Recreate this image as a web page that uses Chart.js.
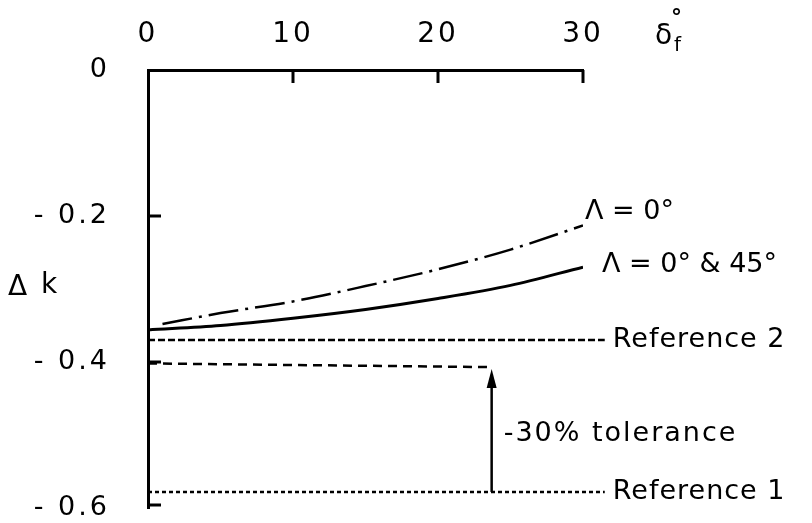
<!DOCTYPE html>
<html>
<head>
<meta charset="utf-8">
<script src="https://cdn.jsdelivr.net/npm/chart.js@4/dist/chart.umd.min.js"></script>
<style>
  html, body { margin: 0; padding: 0; background: #fff; }
  #wrap { width: 812px; height: 523px; }
</style>
</head>
<body>
<div id="wrap"><canvas id="c" width="812" height="523"></canvas></div>
<script>
// Flap deflection δf (degrees) and the change in k
const deflectionSolid = [0, 5, 10, 15, 20, 25, 30];
const dkSweepBoth     = [-0.356, -0.350, -0.340, -0.328, -0.313, -0.295, -0.270]; // Λ = 0° & 45°
const deflectionChain = [1, 5, 10, 15, 20, 25, 30];
const dkSweepZero     = [-0.348, -0.333, -0.317, -0.296, -0.273, -0.246, -0.213]; // Λ = 0°

// Reference levels
const refSpan      = [0, 31.5];
const reference2   = [-0.370, -0.370];
const reference1   = [-0.578, -0.578];
const toleranceX   = [0, 23.7];
const toleranceY   = [-0.402, -0.407];
const arrowX       = [23.7, 23.7];
const arrowY       = [-0.578, -0.425];

// Axis ticks
const xTicks = [0, 10, 20, 30];
const yTicks = [0, -0.2, -0.4, -0.6];

const FONT = '"DejaVu Sans", sans-serif';

const pts = (xs, ys) => xs.map((x, i) => ({ x: x, y: ys[i] }));

function fmtY(v) {
  if (Math.abs(v) < 1e-9) return '0';
  return '- ' + Math.abs(v).toFixed(1);
}

// wider lettering for the tick labels
const spacing = {
  id: 'spacing',
  beforeDraw(chart) { chart.ctx.letterSpacing = '3px'; },
  afterDraw(chart) { chart.ctx.letterSpacing = '0px'; }
};

const drawings = {
  id: 'drawings',
  afterDraw(chart) {
    const { ctx, scales: { x, y } } = chart;
    ctx.save();
    ctx.letterSpacing = '0px';
    ctx.strokeStyle = '#000';
    ctx.fillStyle = '#000';
    ctx.lineWidth = 3;
    ctx.lineCap = 'butt';

    // inward tick marks on the top axis
    const top = y.getPixelForValue(0);
    xTicks.slice(1).forEach(v => {
      const px = x.getPixelForValue(v);
      ctx.beginPath();
      ctx.moveTo(px, top);
      ctx.lineTo(px, top + 13);
      ctx.stroke();
    });
    // inward tick marks on the left axis
    const left = x.getPixelForValue(0);
    yTicks.slice(1).forEach(v => {
      const py = Math.min(y.getPixelForValue(v), chart.chartArea.bottom - 3);
      ctx.beginPath();
      ctx.moveTo(left, py);
      ctx.lineTo(left + 13, py);
      ctx.stroke();
    });

    // arrow head on the tolerance bar
    const ax = x.getPixelForValue(arrowX[0]);
    const ay = y.getPixelForValue(toleranceY[1]) + 2;
    ctx.beginPath();
    ctx.moveTo(ax, ay);
    ctx.lineTo(ax - 5, ay + 19);
    ctx.lineTo(ax + 5, ay + 19);
    ctx.closePath();
    ctx.fill();

    // text annotations
    ctx.textBaseline = 'middle';
    ctx.textAlign = 'left';
    ctx.font = '27px ' + FONT;
    ctx.letterSpacing = '1px';
    const endX = x.getPixelForValue(refSpan[1]);
    ctx.fillText('Reference 2', endX + 8, y.getPixelForValue(reference2[1]));
    ctx.fillText('Reference 1', endX + 8, y.getPixelForValue(reference1[1]));

    ctx.letterSpacing = '0px';
    const zx = x.getPixelForValue(30);
    ctx.fillText('Λ = 0°', zx + 2, y.getPixelForValue(dkSweepZero[6]) - 14);
    ctx.fillText('Λ = 0° & 45°', zx + 19, y.getPixelForValue(dkSweepBoth[6]) - 2);

    ctx.letterSpacing = '2px';
    ctx.fillText('-30% tolerance', ax + 12, (y.getPixelForValue(arrowY[0]) + y.getPixelForValue(arrowY[1])) / 2 - 2);

    // axis titles
    ctx.letterSpacing = '0px';
    ctx.font = '28px ' + FONT;
    ctx.fillText('δ', 655, 37);
    ctx.font = '20px ' + FONT;
    ctx.fillText('f', 674, 46);
    ctx.font = 'bold 22px ' + FONT;
    ctx.fillText('°', 671, 18);
    ctx.font = '28px ' + FONT;
    ctx.fillText('Δ', 8, 288);
    ctx.fillText('k', 41, 286);
    ctx.restore();
  }
};

const line = (data, extra) => Object.assign({
  data: data,
  borderColor: '#000',
  borderWidth: 2.5,
  pointRadius: 0,
  fill: false,
  tension: 0
}, extra);

new Chart(document.getElementById('c'), {
  type: 'line',
  data: {
    datasets: [
      line(pts(deflectionChain, dkSweepZero), { borderDash: [30, 7, 3, 7], cubicInterpolationMode: 'monotone' }),
      line(pts(deflectionSolid, dkSweepBoth), { borderWidth: 3, cubicInterpolationMode: 'monotone' }),
      line(pts(refSpan, reference2), { borderDash: [7, 3], clip: false }),
      line(pts(toleranceX, toleranceY), { borderDash: [9, 6] }),
      line(pts(refSpan, reference1), { borderDash: [4, 3], clip: false }),
      line(pts(arrowX, arrowY), { borderWidth: 2.5 })
    ]
  },
  options: {
    responsive: false,
    animation: false,
    devicePixelRatio: 1,
    layout: { autoPadding: false, padding: { left: 0, top: 0, right: 229, bottom: 15 } },
    plugins: { legend: { display: false }, tooltip: { enabled: false } },
    scales: {
      x: {
        type: 'linear',
        position: 'top',
        min: 0, max: 30,
        afterBuildTicks(s) { s.ticks = xTicks.map(v => ({ value: v })); },
        ticks: { color: '#000', font: { family: FONT, size: 28 }, padding: 18, maxRotation: 0 },
        grid: { drawOnChartArea: false, drawTicks: false },
        border: { display: true, color: '#000', width: 3 },
        afterFit(s) { s.height = 70; s.paddingLeft = 0; s.paddingRight = 0; }
      },
      y: {
        type: 'linear',
        position: 'left',
        min: -0.6, max: 0,
        afterBuildTicks(s) { s.ticks = yTicks.map(v => ({ value: v })); },
        ticks: { color: '#000', font: { family: FONT, size: 27 }, padding: 38, callback: fmtY },
        grid: { drawOnChartArea: false, drawTicks: false },
        border: { display: true, color: '#000', width: 3 },
        afterFit(s) { s.width = 148; s.paddingTop = 0; s.paddingBottom = 0; }
      }
    }
  },
  plugins: [spacing, drawings]
});
</script>
</body>
</html>
